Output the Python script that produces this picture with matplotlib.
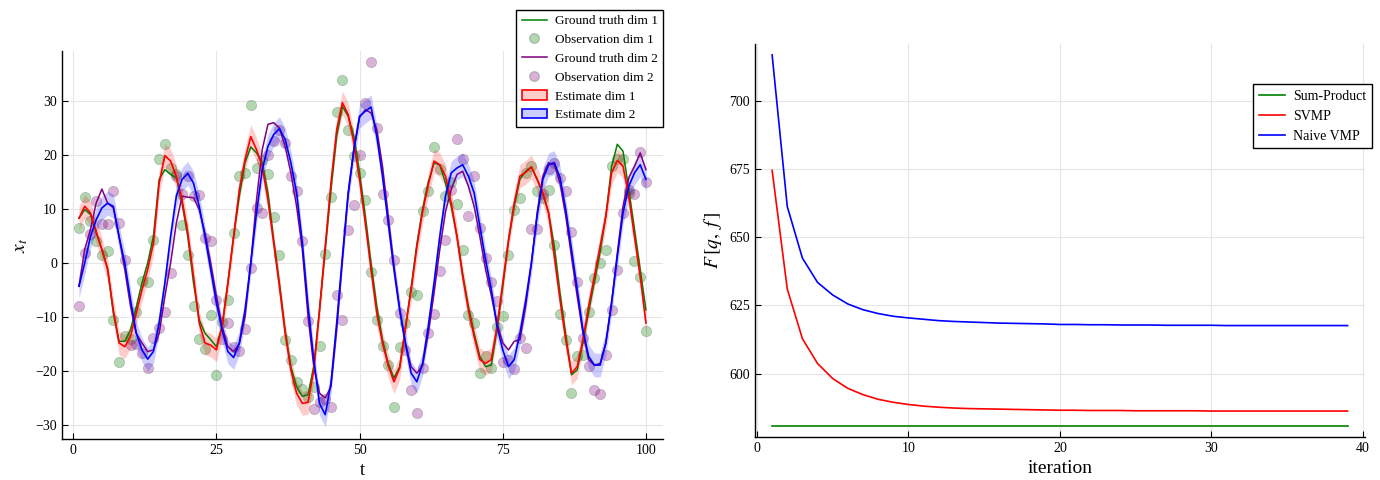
import matplotlib

matplotlib.use("Agg")
import matplotlib.pyplot as plt
from matplotlib.lines import Line2D
from matplotlib.patches import Patch

plt.rcParams["font.family"] = ["Liberation Serif", "DejaVu Serif"]
plt.rcParams["mathtext.fontset"] = "stix"

t = list(range(1, 101))

truth_1 = [
    8.3, 9.9, 9.0, 5.6, 2.5, -1.0, -9.3, -14.5, -14.5, -12.4,
    -8.2, -3.7, 0.0, 5.0, 15.5, 17.3, 16.4, 15.8, 11.1, 4.9,
    -3.7, -10.5, -13.0, -14.2, -15.5, -11.7, -3.7, 4.9, 12.4, 18.6,
    21.5, 20.4, 18.6, 13.0, 4.3, -3.7, -12.4, -19.2, -22.9, -24.7,
    -24.4, -19.1, -8.7, 2.5, 13.6, 23.5, 29.0, 27.2, 23.5, 16.7,
    8.7, 0.0, -8.0, -14.2, -18.6, -21.3, -19.2, -12.0, -4.5, 3.5,
    10.0, 15.0, 18.5, 18.2, 14.8, 10.5, 5.0, -2.0, -8.0, -13.0,
    -17.3, -19.2, -18.9, -12.4, -4.3, 4.0, 10.5, 15.5, 17.0, 17.8,
    15.5, 12.8, 9.3, 3.1, -5.6, -13.3, -20.7, -19.8, -14.8, -9.0,
    -3.5, 2.0, 8.7, 17.9, 22.0, 20.7, 13.6, 6.2, -1.2, -8.7,
]
truth_2 = [
    -4.3, 2.5, 6.2, 11.1, 13.7, 11.1, 10.2, 4.9, -1.2, -8.0,
    -13.0, -14.8, -16.4, -16.1, -13.0, -6.2, 0.0, 7.4, 12.4, 12.2,
    12.1, 9.9, 5.6, 0.0, -6.2, -11.7, -15.5, -16.4, -15.0, -9.9,
    0.0, 11.7, 21.0, 25.7, 26.0, 25.0, 21.6, 16.7, 10.5, 2.5,
    -9.9, -19.2, -24.1, -25.0, -22.9, -12.4, 0.5, 12.5, 21.0, 27.0,
    28.4, 27.8, 24.7, 17.9, 8.7, -0.5, -8.5, -14.8, -19.2, -20.4,
    -19.0, -13.0, -5.5, 2.5, 9.5, 13.6, 16.4, 17.0, 14.2, 10.5,
    4.9, -1.2, -6.0, -11.1, -14.8, -16.1, -14.5, -14.2, -8.0, 0.0,
    9.3, 16.1, 18.6, 18.2, 14.8, 8.7, 1.2, -6.2, -13.0, -17.9,
    -18.9, -18.6, -14.8, -7.4, 1.8, 10.5, 15.8, 17.9, 20.4, 17.3,
]
obs_1 = [
    6.5, 12.2, 7.7, 4.0, 1.5, 2.3, -10.5, -18.4, -13.6, -14.0,
    -9.0, -3.4, -3.5, 4.3, 19.3, 22.0, 17.6, 16.4, 7.1, 1.5,
    -8.0, -14.0, -16.0, -9.6, -20.7, -11.0, -6.9, 5.6, 16.2, 16.6,
    29.2, 17.6, 19.0, 16.4, 8.5, 1.4, -14.2, -17.9, -22.0, -23.4,
    -24.9, -22.9, -15.3, 1.7, 12.2, 28.0, 33.9, 24.7, 19.8, 16.6,
    11.6, -1.7, -10.6, -15.3, -18.9, -26.6, -15.6, -11.1, -5.3, -5.9,
    9.6, 13.3, 21.5, 17.5, 12.4, 15.0, 11.0, 2.5, -9.6, -11.1,
    -20.4, -17.3, -19.5, -11.8, -9.8, 1.4, 9.9, 12.1, 16.7, 18.0,
    13.3, 12.1, 13.6, 3.4, -9.4, -14.2, -24.0, -17.3, -17.0, -9.0,
    -2.8, 0.0, 2.4, 17.9, 19.3, 19.3, 13.0, 0.3, -2.5, -12.5,
]
obs_2 = [
    -8.0, 1.9, 5.4, 11.4, 7.2, 7.2, 13.3, 7.5, 0.5, -15.2,
    -15.0, -16.7, -19.5, -13.8, -12.0, -9.0, -1.9, 16.2, 12.7, 16.1,
    12.5, 12.6, 4.6, 4.0, -6.9, -14.0, -11.1, -15.6, -16.3, -12.2,
    -0.9, 10.2, 9.2, 20.1, 22.6, 24.7, 22.3, 16.2, 13.3, 4.0,
    -10.8, -27.0, -25.7, -25.2, -26.6, -5.9, -10.6, 6.2, 10.8, 20.1,
    29.6, 37.3, 25.0, 12.7, 7.9, 0.5, -9.3, -16.1, -23.5, -27.7,
    -19.5, -13.0, -9.4, -1.4, 4.3, 13.5, 22.9, 19.2, 8.7, 16.2,
    6.5, 0.9, -3.5, -7.1, -18.4, -17.9, -19.6, -13.8, -15.7, 6.3,
    6.3, 12.7, 17.4, 18.6, 15.8, 13.3, 5.7, -3.6, -13.9, -19.0,
    -23.6, -24.3, -17.0, -8.7, -1.2, 9.3, 13.6, 12.7, 20.5, 15.0,
]
est_1 = [
    8.3, 10.5, 9.3, 5.9, 2.5, -1.2, -8.7, -14.8, -15.5, -13.6,
    -9.3, -5.0, -1.2, 3.7, 14.8, 19.9, 18.9, 16.0, 11.7, 5.6,
    -2.5, -11.1, -14.8, -15.2, -16.1, -11.7, -3.7, 4.9, 13.6, 19.2,
    23.4, 21.0, 17.9, 11.7, 3.7, -4.3, -13.0, -19.8, -24.1, -26.0,
    -25.8, -19.8, -8.7, 3.1, 14.8, 24.7, 29.7, 27.5, 22.3, 15.5,
    7.4, -1.2, -9.3, -14.8, -19.0, -22.0, -19.5, -12.0, -5.0, 3.0,
    9.5, 14.5, 18.9, 18.2, 16.1, 11.1, 4.9, -2.5, -8.7, -13.6,
    -17.9, -18.6, -17.9, -11.7, -3.7, 4.3, 11.1, 16.1, 16.8, 17.8,
    15.5, 13.0, 9.3, 1.2, -6.8, -14.2, -20.4, -19.2, -14.2, -8.0,
    -2.5, 3.1, 8.7, 16.7, 19.0, 17.9, 12.4, 4.9, -2.5, -11.1,
]
est_2 = [
    -4.3, 0.0, 4.9, 8.0, 10.2, 11.1, 10.5, 4.9, 0.0, -6.8,
    -13.0, -16.1, -17.8, -16.4, -11.1, -3.7, 4.9, 12.4, 15.5, 16.6,
    14.8, 10.5, 4.9, -1.2, -7.4, -12.4, -16.4, -17.5, -14.8, -8.7,
    0.0, 9.3, 17.3, 21.6, 23.8, 24.9, 22.9, 18.6, 13.0, 3.7,
    -8.0, -17.9, -26.0, -28.1, -22.3, -11.1, 1.2, 13.0, 21.0, 27.2,
    28.1, 28.9, 23.5, 16.1, 7.4, -1.2, -8.7, -14.8, -20.4, -22.0,
    -18.6, -11.7, -3.7, 4.9, 12.4, 16.7, 17.6, 18.2, 16.1, 13.0,
    6.8, 0.6, -4.9, -11.7, -16.1, -19.2, -17.9, -13.0, -7.0, 0.0,
    8.7, 15.5, 18.2, 18.6, 15.8, 9.9, 2.5, -4.9, -12.4, -17.3,
    -18.9, -18.9, -14.8, -7.4, 1.2, 9.3, 14.2, 16.7, 18.2, 15.5,
]
# half width of the estimate ribbons
band_1 = 2.2
band_2 = 2.2

iterations = list(range(1, 40))
sum_product = [580.7] * 39
svmp = [
    674.4, 631.0, 612.8, 603.7, 598.2, 594.6, 592.3, 590.6, 589.5, 588.7,
    588.1, 587.7, 587.4, 587.2, 587.1, 587.0, 586.9, 586.8, 586.7, 586.6,
    586.6, 586.5, 586.5, 586.5, 586.4, 586.4, 586.4, 586.4, 586.4, 586.3,
    586.3, 586.3, 586.3, 586.3, 586.3, 586.3, 586.3, 586.3, 586.3,
]
naive_vmp = [
    716.7, 661.2, 642.3, 633.4, 628.8, 625.5, 623.4, 622.0, 621.0, 620.4,
    619.9, 619.4, 619.1, 618.9, 618.7, 618.5, 618.4, 618.3, 618.2, 618.0,
    618.0, 617.9, 617.9, 617.8, 617.8, 617.8, 617.7, 617.7, 617.7, 617.7,
    617.6, 617.6, 617.6, 617.6, 617.6, 617.6, 617.6, 617.6, 617.6,
]


def style_axis(axis):
    axis.spines["top"].set_visible(False)
    axis.spines["right"].set_visible(False)
    axis.spines["left"].set_linewidth(1.0)
    axis.spines["bottom"].set_linewidth(1.0)
    axis.grid(True, color="#e6e6e6", linewidth=0.8)
    axis.set_axisbelow(True)
    axis.tick_params(direction="in", labelsize=10, length=4)


def add_legend(axis, handles, labels, anchor, size):
    legend = axis.legend(
        handles, labels,
        loc="upper right", bbox_to_anchor=anchor,
        fontsize=size, fancybox=False, edgecolor="black", framealpha=1.0,
        handlelength=1.9, handletextpad=0.6, borderpad=0.4, labelspacing=0.5,
        borderaxespad=0.0,
    )
    legend.get_frame().set_linewidth(1.0)
    return legend


def plot_tracking(axis):
    axis.plot(t, truth_1, color="#008000", lw=1.1)
    axis.scatter(t, obs_1, s=55, color="#008000", alpha=0.3, edgecolors="#555555", linewidths=0.6)
    axis.plot(t, truth_2, color="#800080", lw=1.1)
    axis.scatter(t, obs_2, s=55, color="#800080", alpha=0.3, edgecolors="#555555", linewidths=0.6)

    lo_1 = [v - band_1 for v in est_1]
    hi_1 = [v + band_1 for v in est_1]
    lo_2 = [v - band_2 for v in est_2]
    hi_2 = [v + band_2 for v in est_2]
    axis.fill_between(t, lo_1, hi_1, color="#ff0000", alpha=0.2, lw=0)
    axis.plot(t, est_1, color="#ff0000", lw=1.2)
    axis.fill_between(t, lo_2, hi_2, color="#0000ff", alpha=0.2, lw=0)
    axis.plot(t, est_2, color="#0000ff", lw=1.2)

    axis.set_xlim(-1.97, 102.97)
    axis.set_ylim(-32.6, 39.3)
    axis.set_xticks([0, 25, 50, 75, 100])
    axis.set_yticks([-30, -20, -10, 0, 10, 20, 30])
    axis.set_xlabel("t", fontsize=13)
    axis.set_ylabel("$x_t$", fontsize=14)
    style_axis(axis)

    handles = [
        Line2D([], [], color="#008000", lw=1.1),
        Line2D([], [], ls="", marker="o", ms=7, mfc=(0, 0.5, 0, 0.3), mec=(0.33, 0.33, 0.33, 0.3)),
        Line2D([], [], color="#800080", lw=1.1),
        Line2D([], [], ls="", marker="o", ms=7, mfc=(0.5, 0, 0.5, 0.3), mec=(0.33, 0.33, 0.33, 0.3)),
        Patch(facecolor=(1, 0, 0, 0.2), edgecolor="#ff0000", lw=1.2),
        Patch(facecolor=(0, 0, 1, 0.2), edgecolor="#0000ff", lw=1.2),
    ]
    labels = [
        "Ground truth dim 1",
        "Observation dim 1",
        "Ground truth dim 2",
        "Observation dim 2",
        "Estimate dim 1",
        "Estimate dim 2",
    ]
    add_legend(axis, handles, labels, (1.0, 1.106), 9.5)


def plot_free_energy(axis):
    axis.plot(iterations, sum_product, color="#008000", lw=1.2, label="Sum-Product")
    axis.plot(iterations, svmp, color="#ff0000", lw=1.2, label="SVMP")
    axis.plot(iterations, naive_vmp, color="#0000ff", lw=1.2, label="Naive VMP")
    axis.set_xlim(-0.14, 40.14)
    axis.set_ylim(576.8, 720.7)
    axis.set_xticks([0, 10, 20, 30, 40])
    axis.set_yticks([600, 625, 650, 675, 700])
    axis.set_xlabel("iteration", fontsize=14)
    axis.set_ylabel("$F\\,[q,\\ f\\,]$", fontsize=14)
    style_axis(axis)
    handles, labels = axis.get_legend_handles_labels()
    add_legend(axis, handles, labels, (1.012, 0.898), 10)


def main():
    fig = plt.figure(figsize=(13.8, 4.8), dpi=100)
    left = fig.add_axes([0.0449, 0.0854, 0.4355, 0.8086])
    right = fig.add_axes([0.547, 0.0896, 0.442, 0.8188])
    plot_tracking(left)
    plot_free_energy(right)
    fig.savefig("out.png", dpi=100)


if __name__ == "__main__":
    main()
